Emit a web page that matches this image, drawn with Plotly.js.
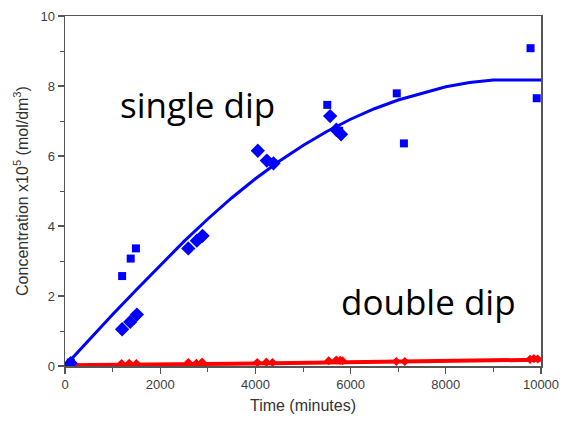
<!DOCTYPE html>
<html>
<head>
<meta charset="utf-8">
<script src="https://cdn.plot.ly/plotly-3.0.1.min.js"></script>
<style>html,body{margin:0;padding:0;background:#fff;}#chart{width:563px;height:423px;}</style>
</head>
<body>
<div id="chart"></div>
<script>
// Fitted curves
const fitX = [0, 500, 1000, 1500, 2000, 2500, 3000, 3500, 4000, 4500, 5000, 5500, 6000, 6500, 7000, 7500, 8000, 8500, 9000, 9500, 10000];
const singleFitY = [0, 0.74, 1.47, 2.18, 2.88, 3.56, 4.2, 4.8, 5.35, 5.85, 6.3, 6.7, 7.05, 7.35, 7.6, 7.8, 7.98, 8.1, 8.17, 8.17, 8.17];
const doubleFitY = [0.02, 0.03, 0.04, 0.045, 0.05, 0.055, 0.06, 0.065, 0.07, 0.078, 0.085, 0.092, 0.1, 0.105, 0.11, 0.12, 0.13, 0.14, 0.15, 0.165, 0.18];

// Single dip - squares
const singleSqX = [120, 1200, 1380, 1490, 5510, 5760, 6970, 7120, 9780, 9910];
const singleSqY = [0.1, 2.57, 3.07, 3.36, 7.46, 6.72, 7.79, 6.36, 9.08, 7.65];
// Single dip - diamonds
const singleDiX = [120, 1200, 1370, 1510, 2590, 2770, 2890, 4050, 4240, 4380, 5570, 5700, 5800];
const singleDiY = [0.08, 1.05, 1.26, 1.47, 3.36, 3.58, 3.72, 6.15, 5.87, 5.79, 7.14, 6.75, 6.62];

// Double dip - points
const doubleX = [100, 1190, 1350, 1500, 2590, 2760, 2880, 4040, 4230, 4360, 5540, 5700, 5780, 5830, 6960, 7140, 9770, 9850, 9930];
const doubleY = [0.04, 0.07, 0.08, 0.07, 0.1, 0.08, 0.11, 0.1, 0.11, 0.1, 0.15, 0.17, 0.16, 0.15, 0.13, 0.13, 0.19, 0.21, 0.2];

const xTicks = [0, 2000, 4000, 6000, 8000, 10000];
const yTicks = [0, 2, 4, 6, 8, 10];

const blue = '#0000FF';
const red = '#FF0000';

const traces = [
  {x: fitX, y: doubleFitY, mode: 'lines', line: {color: red, width: 4}},
  {x: doubleX, y: doubleY, mode: 'markers', marker: {symbol: 'diamond', color: red, size: 7}},
  {x: fitX, y: singleFitY, mode: 'lines', line: {color: blue, width: 3}},
  {x: singleSqX, y: singleSqY, mode: 'markers', marker: {symbol: 'square', color: blue, size: 8}},
  {x: singleDiX, y: singleDiY, mode: 'markers', marker: {symbol: 'diamond', color: blue, size: 11}}
];

const axisCommon = {
  showline: true, mirror: true, linecolor: '#555', linewidth: 1.5,
  ticks: 'outside', ticklen: 6, tickwidth: 1.2, tickcolor: '#555',
  showgrid: false, zeroline: false,
  tickfont: {family: 'Liberation Sans, Arial, sans-serif', size: 13, color: '#404040'},
  minor: {ticks: 'outside', ticklen: 4, tickcolor: '#555', tickwidth: 1}
};

const layout = {
  width: 563, height: 423,
  margin: {l: 65, r: 22, t: 16, b: 57},
  paper_bgcolor: '#fff', plot_bgcolor: '#fff',
  showlegend: false,
  xaxis: Object.assign({}, axisCommon, {
    range: [0, 10000], tickvals: xTicks, ticktext: xTicks.map(String),
    minor: Object.assign({}, axisCommon.minor, {dtick: 1000, tick0: 0}),
    title: {text: 'Time (minutes)', standoff: 8, font: {family: 'Liberation Sans, Arial, sans-serif', size: 16, color: '#333'}}
  }),
  yaxis: Object.assign({}, axisCommon, {
    range: [0, 10], tickvals: yTicks, ticktext: yTicks.map(String),
    minor: Object.assign({}, axisCommon.minor, {dtick: 1, tick0: 0}),
    title: {text: 'Concentration x10<sup>5</sup> (mol/dm<sup>3</sup>)', standoff: 8, font: {family: 'Liberation Sans, Arial, sans-serif', size: 16, color: '#333'}}
  }),
  annotations: [
    {x: 0.112, y: 0.748, xref: 'paper', yref: 'paper', xanchor: 'left', yanchor: 'middle', showarrow: false,
     text: 'single dip', font: {family: 'Open Sans, Noto Sans, sans-serif', size: 35, color: '#000'}},
    {x: 0.575, y: 0.183, xref: 'paper', yref: 'paper', xanchor: 'left', yanchor: 'middle', showarrow: false,
     text: 'double dip', font: {family: 'Open Sans, Noto Sans, sans-serif', size: 35, color: '#000'}}
  ]
};

Plotly.newPlot('chart', traces, layout, {displayModeBar: false, staticPlot: true});
</script>
</body>
</html>
